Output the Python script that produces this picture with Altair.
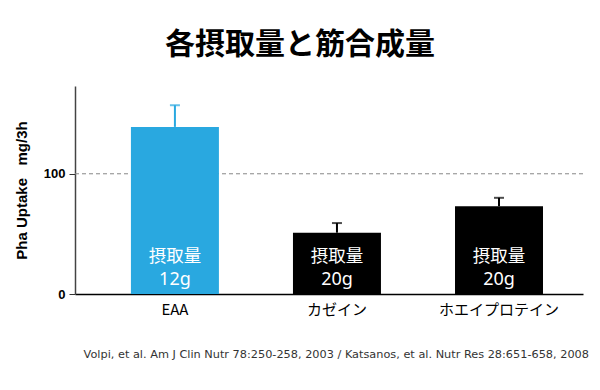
import altair as alt
import pandas as pd

# ---- data ----
categories = ["EAA", "カゼイン", "ホエイプロテイン"]
values = [139, 51, 73]
upper = [157, 59, 80]
doses = ["12g", "20g", "20g"]
dose_word = ["摂取量", "摂取量", "摂取量"]
bar_colors = ["#29A8E0", "#000000", "#000000"]
title_text = "各摂取量と筋合成量"
y_title = "Pha Uptake\u00a0\u00a0\u00a0mg/3h"
citation = "Volpi, et al. Am J Clin Nutr 78:250-258, 2003 / Katsanos, et al. Nutr Res 28:651-658, 2008"

df = pd.DataFrame({
    "cat": categories,
    "val": values,
    "hi": upper,
    "word": dose_word,
    "dose": doses,
})

JP = "Noto Sans CJK JP"

x = alt.X(
    "cat:N",
    sort=categories,
    scale=alt.Scale(paddingInner=0.457, paddingOuter=0.296, align=0.583),
    axis=alt.Axis(
        title=None, labelAngle=0, ticks=False, domainColor="#000000", domainWidth=1.5,
        labelFontSize=15, labelFont=JP, labelColor="#000000", labelPadding=8,
    ),
)
y = alt.Y(
    "val:Q",
    scale=alt.Scale(domain=[0, 173], nice=False, zero=True),
    axis=alt.Axis(
        values=[0, 100], grid=False, title=y_title, titleFont="Liberation Sans",
        titleFontSize=15, titleFontWeight="bold", titleColor="#000000", titlePadding=14,
        labelFont="Liberation Sans", labelFontSize=13, labelFontWeight="bold",
        labelColor="#000000", labelPadding=4, tickSize=6, tickColor="#333333",
        domainColor="#444444", domainWidth=1.5,
    ),
)
color = alt.Color("cat:N", scale=alt.Scale(domain=categories, range=bar_colors), legend=None)

base = alt.Chart(df).encode(x=x, color=color)

ref = alt.Chart(pd.DataFrame({"r": [100]})).mark_rule(
    strokeDash=[4, 3], color="#888888", strokeWidth=1
).encode(y=alt.Y("r:Q"))

bars = base.mark_bar().encode(y=y)
err = base.mark_rule(strokeWidth=2).encode(y=alt.Y("val:Q"), y2="hi:Q")
cap = base.mark_tick(size=10, thickness=2).encode(y=alt.Y("hi:Q"))
word = base.mark_text(fontSize=17.5, font=JP, baseline="middle").encode(
    y=alt.datum(30.5), text="word:N", color=alt.value("#ffffff")
)
dose = base.mark_text(fontSize=18, font="Noto Sans", baseline="middle").encode(
    y=alt.datum(12), text="dose:N", color=alt.value("#ffffff")
)

cite = alt.Chart(pd.DataFrame({"t": [citation]})).mark_text(
    align="right", baseline="middle", font="DejaVu Sans", fontSize=11.3, color="#333333"
).encode(x=alt.value(514), y=alt.value(269), text="t:N")

chart = alt.layer(ref, err, cap, bars, word, dose, cite).properties(
    width=508,
    height=208,
    title=alt.TitleParams(
        title_text, font=JP, fontSize=30, fontWeight="bold", color="#000000",
        anchor="middle", dx=-29, dy=28, offset=24, baseline="bottom",
    ),
    autosize=alt.AutoSizeParams(type="none"),
    padding={"left": 67, "top": 78, "right": 9, "bottom": 88},
).configure_view(stroke=None)

chart.save("out.html", embed_options={"renderer": "svg", "actions": False})
